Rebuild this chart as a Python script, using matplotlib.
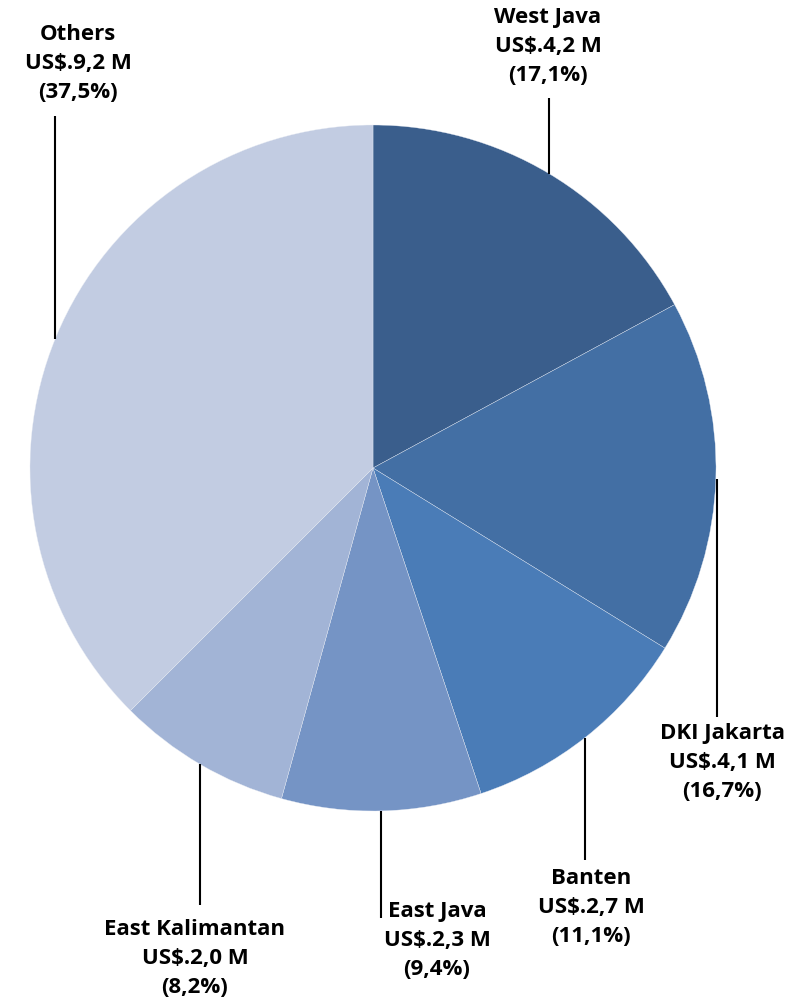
import numpy as np
import matplotlib
matplotlib.use("Agg")
import matplotlib.pyplot as plt

# Investment by province (US$ million) and share of total (%)
regions = ["West Java", "DKI Jakarta", "Banten", "East Java", "East Kalimantan", "Others"]
values = [4.2, 4.1, 2.7, 2.3, 2.0, 9.2]
shares = [17.1, 16.7, 11.1, 9.4, 8.2, 37.5]
colors = ["#3A5E8C", "#436FA4", "#4A7CB7", "#7594C5", "#A2B4D6", "#C2CCE2"]

W, H = 799, 1007
cx, cy, r = 373, H - 468, 343

fig = plt.figure(figsize=(W / 100, H / 100), dpi=100)
ax = fig.add_axes([0, 0, 1, 1])

ax.pie(shares, colors=colors, startangle=90, counterclock=False,
       center=(cx, cy), radius=r, frame=True,
       wedgeprops=dict(edgecolor="#E8ECF4", linewidth=0.25))
ax.set_xlim(0, W)
ax.set_ylim(0, H)
ax.set_aspect("equal")
ax.axis("off")

# label placement: (leader x, leader end y, text x, text top y)
layout = {
    "West Java":       (549, H - 98,  548, H - 7),
    "DKI Jakarta":     (717, H - 717, 722, H - 723),
    "Banten":          (585, H - 860, 591, H - 868),
    "East Java":       (381, H - 918, 437, H - 901),
    "East Kalimantan": (200, H - 905, 195, H - 919),
    "Others":          (55,  H - 116, 78,  H - 24),
}

for name, val, pct in zip(regions, values, shares):
    lx, ly_end, tx, ty = layout[name]
    dx = lx - cx
    if abs(dx) < r:
        dy = np.sqrt(r ** 2 - dx ** 2)
        ly_start = cy + dy if ly_end > cy else cy - dy
    else:
        ly_start = cy - 11
    ax.plot([lx, lx], [ly_start, ly_end], color="black", lw=1.5,
            solid_capstyle="butt")
    value_txt = f"{val:.1f}".replace(".", ",")
    pct_txt = f"{pct:.1f}".replace(".", ",")
    label = f"{name}\nUS$.{value_txt} M\n({pct_txt}%)"
    ax.text(tx, ty, label, ha="center", va="top", multialignment="center",
            fontsize=16, fontweight="bold", family="Open Sans", linespacing=1.5)

fig.savefig("out.png", dpi=100)
